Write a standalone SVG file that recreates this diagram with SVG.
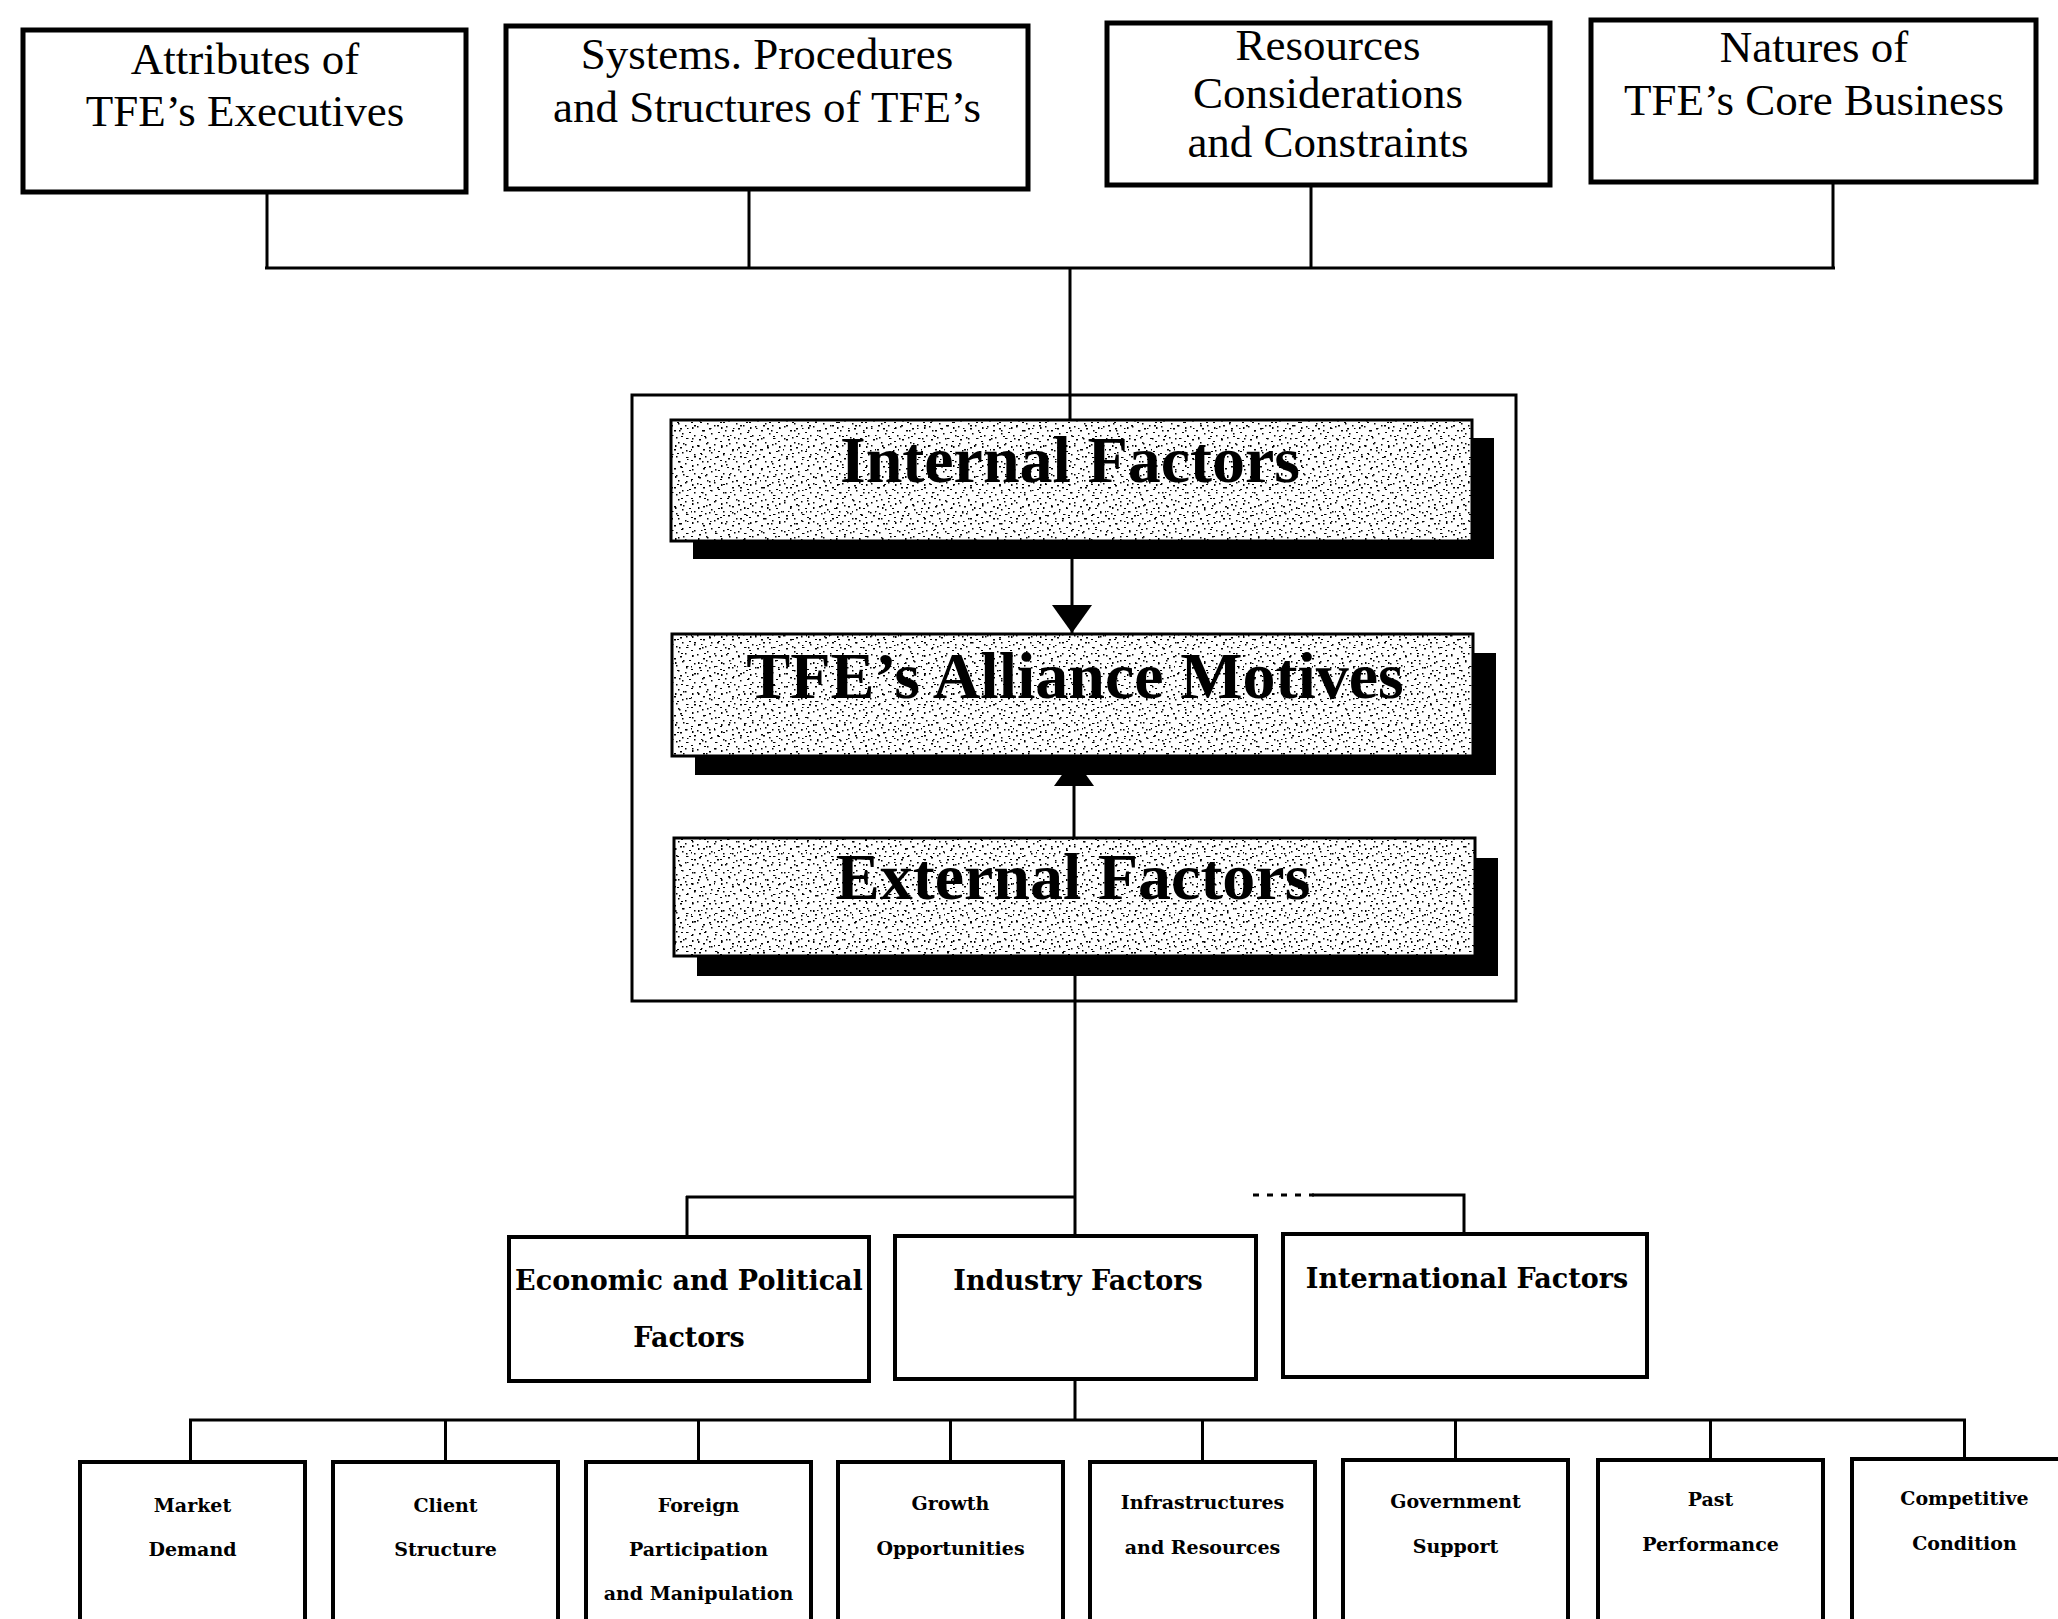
<svg xmlns="http://www.w3.org/2000/svg" width="2058" height="1619" viewBox="0 0 2058 1619">
<style>
.box{fill:#fff;stroke:#000;stroke-width:4}
.tbox{fill:#fff;stroke:#000;stroke-width:5}
.frame{fill:none;stroke:#000;stroke-width:3}
.shade{stroke:#000;stroke-width:3}
.shadow{fill:#000}
.conn{fill:none;stroke:#000;stroke-width:3}
.top{font-family:"Liberation Serif","Times New Roman",serif;font-size:45px;text-anchor:middle;fill:#000}
.big{font-family:"Liberation Serif","Times New Roman",serif;font-size:66px;font-weight:bold;text-anchor:middle;fill:#000}
.mid{font-family:"DejaVu Serif",serif;font-size:27px;font-weight:bold;text-anchor:middle;fill:#000}
.small{font-family:"DejaVu Serif",serif;font-size:19px;font-weight:bold;text-anchor:middle;fill:#000}
</style>
<defs>
<pattern id="spA" width="29" height="19" patternUnits="userSpaceOnUse">
<rect width="29" height="19" fill="#fff"/>
<g fill="#000">
<rect x="3" y="2" width="2" height="1.5"/><rect x="11" y="5" width="1.5" height="1.5"/>
<rect x="19" y="1" width="2.5" height="1"/><rect x="25" y="9" width="1.5" height="2"/>
<rect x="7" y="12" width="2" height="1.5"/><rect x="15" y="15" width="1.5" height="1.5"/>
<rect x="22" y="14" width="2" height="1"/><rect x="1" y="8" width="1.5" height="1.5"/>
<rect x="27" y="17" width="1.5" height="1.5"/><rect x="13" y="10" width="2" height="1.5"/>
<rect x="5" y="17" width="1.5" height="1"/><rect x="18" y="7" width="1.5" height="1.5"/>
<rect x="9" y="0" width="1.5" height="1.5"/><rect x="24" y="4" width="2" height="1"/>
</g>
</pattern>
<pattern id="spB" width="23" height="31" patternUnits="userSpaceOnUse">
<g fill="#000">
<rect x="2" y="4" width="1.5" height="1.5"/><rect x="14" y="2" width="2" height="1"/>
<rect x="8" y="11" width="1.5" height="2"/><rect x="19" y="16" width="1.5" height="1.5"/>
<rect x="4" y="22" width="2" height="1.5"/><rect x="12" y="27" width="1.5" height="1.5"/>
<rect x="20" y="25" width="1.5" height="1"/><rect x="16" y="9" width="1.5" height="1.5"/>
<rect x="1" y="15" width="1" height="1.5"/><rect x="10" y="19" width="2" height="1"/>
</g>
</pattern>
<marker id="arr" viewBox="0 0 28 40" refX="28" refY="20" markerWidth="28" markerHeight="40" markerUnits="userSpaceOnUse" orient="auto">
<path d="M0,0 L28,20 L0,40 z" fill="#000"/>
</marker>
</defs>

<g id="connectors">
<path class="conn" d="M267,192 V268 M749,189 V268 M1311,185 V267 M1833,182 V267 M265,268 H1835 M1070,268 V420"/>
<path class="conn" d="M1072,541 V633" marker-end="url(#arr)"/>
<path class="conn" d="M1074,838 V758" marker-end="url(#arr)"/>
<path class="conn" d="M1075,955 V1236 M686,1197 H1075 M687,1196 V1237"/>
<path class="conn" d="M1253,1195 H1314" stroke-dasharray="6 8" stroke-width="2"/>
<path class="conn" d="M1312,1195 H1464 V1234"/>
<path class="conn" d="M1075,1379 V1420 M189,1420 H1966 M190.5,1419 V1462 M445.5,1420 V1462 M698.5,1420 V1462 M950.5,1420 V1462 M1202.5,1420 V1462 M1455.5,1420 V1462 M1710.5,1420 V1462 M1964.5,1420 V1462"/>
</g>

<g id="attributes">
<rect class="tbox" x="23" y="30" width="443" height="162"/>
<text class="top" x="245" y="74">Attributes of</text>
<text class="top" x="245" y="126">TFE’s Executives</text>
</g>
<g id="systems">
<rect class="tbox" x="506" y="26" width="522" height="163"/>
<text class="top" x="767" y="69">Systems. Procedures</text>
<text class="top" x="767" y="122">and Structures of TFE’s</text>
</g>
<g id="resources">
<rect class="tbox" x="1107" y="23" width="443" height="162"/>
<text class="top" x="1328" y="60">Resources</text>
<text class="top" x="1328" y="108">Considerations</text>
<text class="top" x="1328" y="157">and Constraints</text>
</g>
<g id="natures">
<rect class="tbox" x="1591" y="20" width="445" height="162"/>
<text class="top" x="1814" y="62">Natures of</text>
<text class="top" x="1814" y="115">TFE’s Core Business</text>
</g>

<g id="frame">
<rect class="frame" x="632" y="395" width="884" height="606"/>
</g>
<g id="internal">
<rect class="shadow" x="693" y="438" width="801" height="121"/>
<rect class="shade" x="671" y="420" width="801" height="121" fill="url(#spA)"/>
<rect x="671" y="420" width="801" height="121" fill="url(#spB)"/>
<text class="big" x="1070" y="482">Internal Factors</text>
</g>
<g id="motives">
<rect class="shadow" x="695" y="653" width="801" height="122"/>
<rect class="shade" x="672" y="634" width="801" height="122" fill="url(#spA)"/>
<rect x="672" y="634" width="801" height="122" fill="url(#spB)"/>
<text class="big" x="1075" y="698">TFE’s Alliance Motives</text>
</g>
<g id="external">
<rect class="shadow" x="697" y="858" width="801" height="118"/>
<rect class="shade" x="674" y="838" width="801" height="118" fill="url(#spA)"/>
<rect x="674" y="838" width="801" height="118" fill="url(#spB)"/>
<text class="big" x="1073" y="899">External Factors</text>
</g>

<g id="economic">
<rect class="box" x="509" y="1237" width="360" height="144"/>
<text class="mid" x="689" y="1290">Economic and Political</text>
<text class="mid" x="689" y="1347">Factors</text>
</g>
<g id="industry">
<rect class="box" x="895" y="1236" width="361" height="143"/>
<text class="mid" x="1078" y="1290">Industry Factors</text>
</g>
<g id="international">
<rect class="box" x="1283" y="1234" width="364" height="143"/>
<text class="mid" x="1467" y="1288">International Factors</text>
</g>

<g id="market">
<rect class="box" x="80" y="1462" width="225" height="200"/>
<text class="small" x="192.5" y="1512">Market</text>
<text class="small" x="192.5" y="1556">Demand</text>
</g>
<g id="client">
<rect class="box" x="333" y="1462" width="225" height="200"/>
<text class="small" x="445.5" y="1512">Client</text>
<text class="small" x="445.5" y="1556">Structure</text>
</g>
<g id="foreign">
<rect class="box" x="586" y="1462" width="225" height="200"/>
<text class="small" x="698.5" y="1512">Foreign</text>
<text class="small" x="698.5" y="1556">Participation</text>
<text class="small" x="698.5" y="1600">and Manipulation</text>
</g>
<g id="growth">
<rect class="box" x="838" y="1462" width="225" height="200"/>
<text class="small" x="950.5" y="1510">Growth</text>
<text class="small" x="950.5" y="1555">Opportunities</text>
</g>
<g id="infrastructures">
<rect class="box" x="1090" y="1462" width="225" height="200"/>
<text class="small" x="1202.5" y="1509">Infrastructures</text>
<text class="small" x="1202.5" y="1554">and Resources</text>
</g>
<g id="government">
<rect class="box" x="1343" y="1460" width="225" height="200"/>
<text class="small" x="1455.5" y="1508">Government</text>
<text class="small" x="1455.5" y="1553">Support</text>
</g>
<g id="past">
<rect class="box" x="1598" y="1460" width="225" height="200"/>
<text class="small" x="1710.5" y="1506">Past</text>
<text class="small" x="1710.5" y="1551">Performance</text>
</g>
<g id="competitive">
<rect class="box" x="1852" y="1459" width="225" height="200"/>
<text class="small" x="1964.5" y="1505">Competitive</text>
<text class="small" x="1964.5" y="1550">Condition</text>
</g>
</svg>
